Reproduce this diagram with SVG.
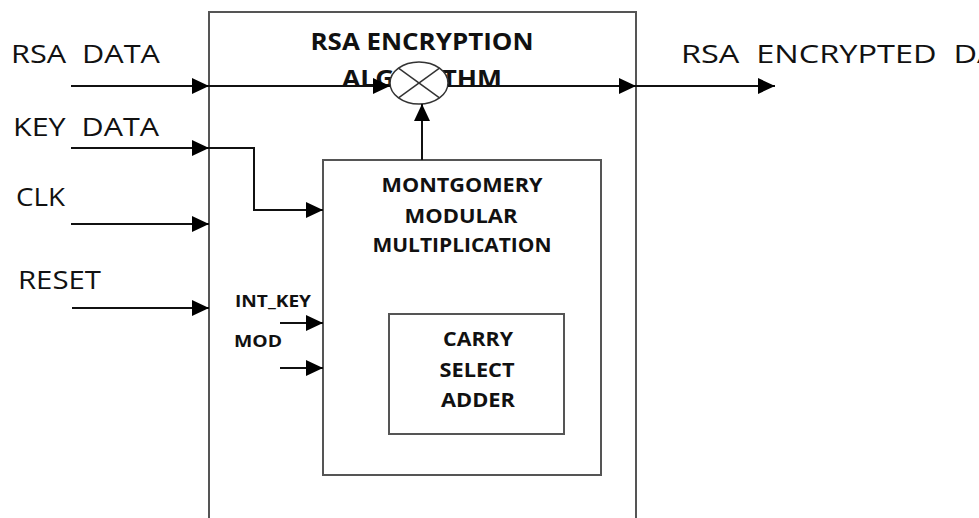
<svg xmlns="http://www.w3.org/2000/svg" width="979" height="518" viewBox="0 0 979 518">
<style>
.lbl{font-family:"Open Sans","Liberation Sans",sans-serif;fill:#111;white-space:pre;}
.reg{font-size:25px;font-weight:normal;}
.bold{font-weight:bold;}
.box{fill:#fff;stroke:#555;stroke-width:2;}
.wire{fill:none;stroke:#111;stroke-width:2;}
</style>
<defs>
<marker id="arr" markerUnits="userSpaceOnUse" markerWidth="18" markerHeight="16" refX="17" refY="8" orient="auto">
<path d="M0,0 L17,8 L0,16 z" fill="#000"/>
</marker>
</defs>
<rect width="979" height="518" fill="#fff"/>
<g id="rsa-block">
<rect class="box" x="209" y="12" width="427" height="520"/>
<text class="lbl bold" x="422" y="50" font-size="23" text-anchor="middle" textLength="223" lengthAdjust="spacingAndGlyphs">RSA ENCRYPTION</text>
<text class="lbl bold" x="422" y="87" font-size="23" text-anchor="middle" textLength="160" lengthAdjust="spacingAndGlyphs">ALGORITHM</text>
</g>
<g id="montgomery">
<rect class="box" x="323" y="160" width="278" height="315" stroke="#444"/>
<text class="lbl bold" x="462" y="192" font-size="20" text-anchor="middle" textLength="161" lengthAdjust="spacingAndGlyphs">MONTGOMERY</text>
<text class="lbl bold" x="461" y="223" font-size="20" text-anchor="middle" textLength="113" lengthAdjust="spacingAndGlyphs">MODULAR</text>
<text class="lbl bold" x="462" y="252" font-size="20" text-anchor="middle" textLength="179" lengthAdjust="spacingAndGlyphs">MULTIPLICATION</text>
</g>
<g id="carry-select">
<rect class="box" x="389" y="314" width="175" height="120" stroke="#333"/>
<text class="lbl bold" x="478" y="346" font-size="20" text-anchor="middle" textLength="70" lengthAdjust="spacingAndGlyphs">CARRY</text>
<text class="lbl bold" x="477" y="377" font-size="20" text-anchor="middle" textLength="75" lengthAdjust="spacingAndGlyphs">SELECT</text>
<text class="lbl bold" x="478" y="407" font-size="20" text-anchor="middle" textLength="74" lengthAdjust="spacingAndGlyphs">ADDER</text>
</g>
<g id="multiplier">
<ellipse cx="419" cy="83" rx="29" ry="21" fill="#fff" stroke="#333" stroke-width="1.5"/>
<line x1="398.5" y1="68.2" x2="439.5" y2="97.8" stroke="#333" stroke-width="1.5"/>
<line x1="398.5" y1="97.8" x2="439.5" y2="68.2" stroke="#333" stroke-width="1.5"/>
</g>
<g id="labels">
<text class="lbl reg" x="11" y="63" textLength="149" lengthAdjust="spacingAndGlyphs">RSA  DATA</text>
<text class="lbl reg" x="13" y="136" textLength="146" lengthAdjust="spacingAndGlyphs">KEY  DATA</text>
<text class="lbl reg" x="16" y="206" textLength="49" lengthAdjust="spacingAndGlyphs">CLK</text>
<text class="lbl reg" x="18" y="289" textLength="83" lengthAdjust="spacingAndGlyphs">RESET</text>
<text class="lbl reg" x="681" y="63" textLength="355" lengthAdjust="spacingAndGlyphs">RSA  ENCRYPTED  DATA</text>
<text class="lbl bold" x="235" y="307" font-size="16" textLength="76" lengthAdjust="spacingAndGlyphs">INT_KEY</text>
<text class="lbl bold" x="234" y="347" font-size="16" textLength="48" lengthAdjust="spacingAndGlyphs">MOD</text>
</g>
<g id="connectors">
<line class="wire" x1="71" y1="86" x2="209" y2="86" marker-end="url(#arr)"/>
<line class="wire" x1="209" y1="86" x2="390" y2="86" marker-end="url(#arr)"/>
<line class="wire" x1="448" y1="86" x2="636" y2="86" marker-end="url(#arr)"/>
<line class="wire" x1="636" y1="86" x2="775" y2="86" marker-end="url(#arr)"/>
<line class="wire" x1="71" y1="148" x2="209" y2="148" marker-end="url(#arr)"/>
<polyline class="wire" stroke="#444" points="209,148 254,148 254,210 323,210" marker-end="url(#arr)"/>
<line class="wire" x1="71" y1="224" x2="209" y2="224" marker-end="url(#arr)"/>
<line class="wire" x1="72" y1="308" x2="209" y2="308" marker-end="url(#arr)"/>
<line class="wire" x1="422" y1="160" x2="422" y2="104" marker-end="url(#arr)"/>
<line class="wire" x1="280" y1="323" x2="323" y2="323" marker-end="url(#arr)"/>
<line class="wire" x1="280" y1="368" x2="323" y2="368" marker-end="url(#arr)"/>
</g>
</svg>
